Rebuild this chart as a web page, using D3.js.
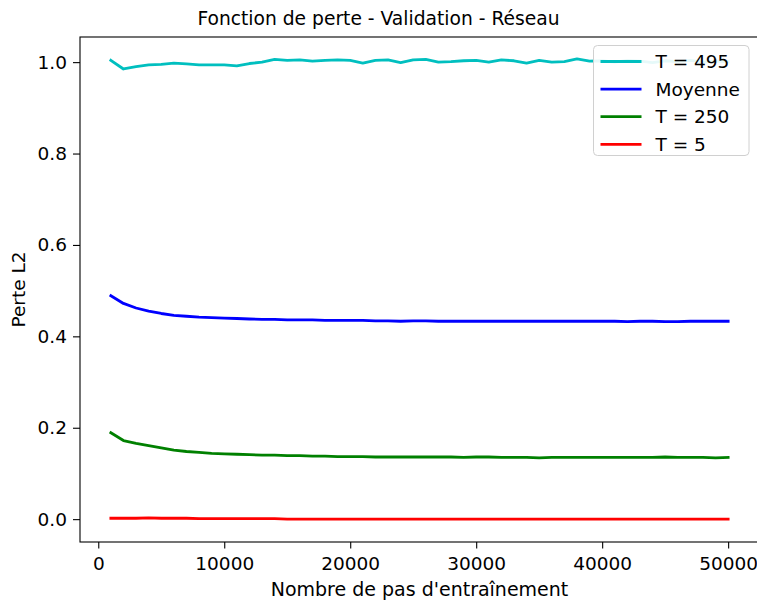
<!DOCTYPE html>
<html>
<head>
<meta charset="utf-8">
<script src="https://cdn.jsdelivr.net/npm/d3@7"></script>
<style>
  body { margin: 0; background: #fff; }
  svg { display: block; font-family: "DejaVu Sans", sans-serif; }
  .axis path, .axis line { stroke: #000; stroke-width: 1.1; }
  .axis text { fill: #000; font-size: 18.5px; font-family: "DejaVu Sans", sans-serif; }
</style>
</head>
<body>
<svg id="chart" width="757" height="601"></svg>
<script>
const steps = [1000, 2000, 3000, 4000, 5000, 6000, 7000, 8000, 9000, 10000,
  11000, 12000, 13000, 14000, 15000, 16000, 17000, 18000, 19000, 20000,
  21000, 22000, 23000, 24000, 25000, 26000, 27000, 28000, 29000, 30000,
  31000, 32000, 33000, 34000, 35000, 36000, 37000, 38000, 39000, 40000,
  41000, 42000, 43000, 44000, 45000, 46000, 47000, 48000, 49000, 50000];

const t495 = [1.004, 0.985, 0.990, 0.994, 0.995, 0.998, 0.996, 0.994, 0.994, 0.994,
  0.992, 0.997, 1.000, 1.006, 1.004, 1.005, 1.002, 1.004, 1.005, 1.004,
  0.998, 1.004, 1.005, 0.999, 1.005, 1.006, 1.000, 1.001, 1.003, 1.004,
  1.000, 1.005, 1.003, 0.998, 1.004, 1.000, 1.001, 1.007, 1.002, 1.003,
  1.000, 1.004, 1.002, 0.999, 1.003, 1.001, 1.004, 1.000, 1.002, 1.001];

const moyenne = [0.489, 0.472, 0.462, 0.455, 0.450, 0.446, 0.444, 0.442, 0.441, 0.440,
  0.439, 0.438, 0.437, 0.437, 0.436, 0.436, 0.436, 0.435, 0.435, 0.435,
  0.435, 0.434, 0.434, 0.433, 0.434, 0.434, 0.433, 0.433, 0.433, 0.433,
  0.433, 0.433, 0.433, 0.433, 0.433, 0.433, 0.433, 0.433, 0.433, 0.433,
  0.433, 0.432, 0.433, 0.433, 0.432, 0.432, 0.433, 0.433, 0.433, 0.433];

const t250 = [0.189, 0.172, 0.166, 0.161, 0.156, 0.151, 0.148, 0.146, 0.144, 0.143,
  0.142, 0.141, 0.140, 0.140, 0.139, 0.139, 0.138, 0.138, 0.137, 0.137,
  0.137, 0.136, 0.136, 0.136, 0.136, 0.136, 0.136, 0.136, 0.135, 0.136,
  0.136, 0.135, 0.135, 0.135, 0.134, 0.135, 0.135, 0.135, 0.135, 0.135,
  0.135, 0.135, 0.135, 0.135, 0.136, 0.135, 0.135, 0.135, 0.134, 0.135];

const t5 = [0.002, 0.002, 0.002, 0.003, 0.002, 0.002, 0.002, 0.001, 0.001, 0.001,
  0.001, 0.001, 0.001, 0.001, 0.000, 0.000, 0.000, 0.000, 0.000, 0.000,
  0.000, 0.000, 0.000, 0.000, 0.000, 0.000, 0.000, 0.000, 0.000, 0.000,
  0.000, 0.000, 0.000, 0.000, 0.000, 0.000, 0.000, 0.000, 0.000, 0.000,
  0.000, 0.000, 0.000, 0.000, 0.000, 0.000, 0.000, 0.000, 0.000, 0.000];

const xTicks = [0, 10000, 20000, 30000, 40000, 50000];
const yTicks = [0.0, 0.2, 0.4, 0.6, 0.8, 1.0];

const series = [
  { label: "T = 495", values: t495, color: "#00bfbf" },
  { label: "Moyenne", values: moyenne, color: "#0000ff" },
  { label: "T = 250", values: t250, color: "#008000" },
  { label: "T = 5", values: t5, color: "#ff0000" }
];

const svg = d3.select("#chart");
const plotL = 80, plotR = 759, plotT = 37, plotB = 542;

const x = d3.scaleLinear().domain([-1450, 52450]).range([plotL, plotR]);
const y = d3.scaleLinear().domain([-0.05, 1.055]).range([plotB, plotT]);

// series lines (drawn first, under spines/legend)
const line = d3.line()
  .x((d, i) => x(steps[i]))
  .y(d => y(d));

svg.append("g").selectAll("path")
  .data(series.slice().reverse())
  .join("path")
  .attr("d", d => line(d.values))
  .attr("fill", "none")
  .attr("stroke", d => d.color)
  .attr("stroke-width", 2.8)
  .attr("stroke-linejoin", "round")
  .attr("stroke-linecap", "square");

// axes
const xAxis = d3.axisBottom(x).tickValues(xTicks).tickFormat(d3.format("d"))
  .tickSize(6.5).tickPadding(8.5).tickSizeOuter(0);
const yAxis = d3.axisLeft(y).tickValues(yTicks).tickFormat(d3.format(".1f"))
  .tickSize(7).tickPadding(6).tickSizeOuter(0);

svg.append("g").attr("class", "axis")
  .attr("transform", `translate(0,${plotB})`)
  .call(xAxis)
  .call(g => g.select(".domain").remove());

svg.append("g").attr("class", "axis")
  .attr("transform", `translate(${plotL},0)`)
  .call(yAxis)
  .call(g => g.select(".domain").remove());

// spines
svg.append("rect")
  .attr("x", plotL).attr("y", plotT)
  .attr("width", plotR - plotL).attr("height", plotB - plotT)
  .attr("fill", "none").attr("stroke", "#000").attr("stroke-width", 1.1);

// title + axis labels
svg.append("text")
  .attr("x", 378.5).attr("y", 25)
  .attr("text-anchor", "middle")
  .attr("font-size", 18.7)
  .text("Fonction de perte - Validation - Réseau");

svg.append("text")
  .attr("x", (plotL + plotR) / 2).attr("y", 596)
  .attr("text-anchor", "middle")
  .attr("font-size", 19)
  .text("Nombre de pas d'entraînement");

svg.append("text")
  .attr("transform", `translate(25,${(plotT + plotB) / 2}) rotate(-90)`)
  .attr("text-anchor", "middle")
  .attr("font-size", 18.5)
  .text("Perte L2");

// legend
const legend = svg.append("g").attr("transform", "translate(593.5,45.5)");
legend.append("rect")
  .attr("width", 155.5).attr("height", 110)
  .attr("rx", 4).attr("ry", 4)
  .attr("fill", "#fff").attr("fill-opacity", 0.9)
  .attr("stroke", "#d0d0d0").attr("stroke-width", 1);

const row = legend.selectAll("g.row")
  .data(series)
  .join("g")
  .attr("class", "row")
  .attr("transform", (d, i) => `translate(0,${16 + i * 27.6})`);

row.append("line")
  .attr("x1", 7).attr("x2", 48)
  .attr("stroke", d => d.color)
  .attr("stroke-width", 2.8);

row.append("text")
  .attr("x", 62).attr("dy", "0.36em")
  .attr("font-size", 18.5)
  .text(d => d.label);
</script>
</body>
</html>
